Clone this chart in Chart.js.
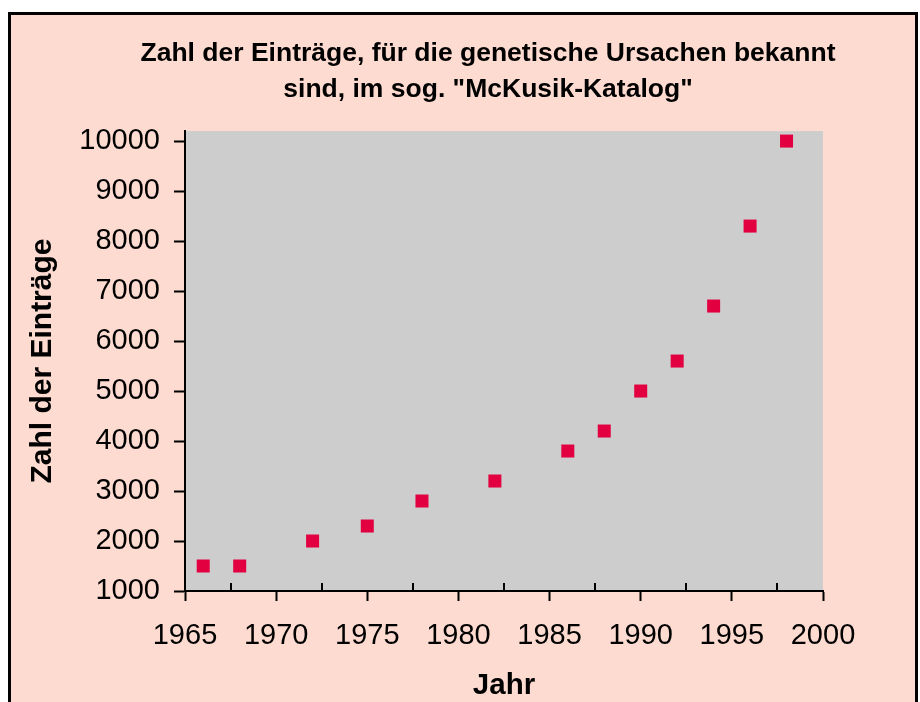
<!DOCTYPE html>
<html>
<head>
<meta charset="utf-8">
<script src="https://cdn.jsdelivr.net/npm/chart.js@4/dist/chart.umd.min.js"></script>
<style>
  html, body { margin: 0; padding: 0; background: #fff; }
  #wrap { width: 920px; height: 702px; }
</style>
</head>
<body>
<div id="wrap"><canvas id="myChart" width="920" height="702"></canvas></div>
<script>
// Jahr / Zahl der Einträge im McKusik-Katalog
const years = [1966, 1968, 1972, 1975, 1978, 1982, 1986, 1988, 1990, 1992, 1994, 1996, 1998];
const entries = [1500, 1500, 2000, 2300, 2800, 3200, 3800, 4200, 5000, 5600, 6700, 8300, 10000];
const yTicks = [1000, 2000, 3000, 4000, 5000, 6000, 7000, 8000, 9000, 10000];
const xMinorTicks = [1967.5, 1972.5, 1977.5, 1982.5, 1987.5, 1992.5, 1997.5];

const FONT = 'Arial, "Liberation Sans", sans-serif';

// pink frame + grey plot area
const background = {
  id: 'background',
  afterLayout(chart) {
    // title sits a bit right of the canvas centre
    chart.titleBlock.left = 136;
    chart.titleBlock.right = 840;
  },
  beforeDraw(chart) {
    const ctx = chart.ctx;
    const a = chart.chartArea;
    ctx.save();
    ctx.fillStyle = '#ffffff';
    ctx.fillRect(0, 0, chart.width, chart.height);
    ctx.fillStyle = 'rgb(253,219,208)';
    ctx.fillRect(9, 14, 907, chart.height - 14);
    ctx.strokeStyle = '#000';
    ctx.lineWidth = 3;
    ctx.beginPath();
    ctx.moveTo(9.5, chart.height + 2);
    ctx.lineTo(9.5, 13.5);
    ctx.lineTo(916.5, 13.5);
    ctx.lineTo(916.5, chart.height + 2);
    ctx.stroke();
    ctx.fillStyle = 'rgb(205,205,205)';
    ctx.fillRect(a.left, a.top, a.right - a.left, a.bottom - a.top);
    ctx.restore();
  }
};

// small inward ticks between the year labels
const minorTicks = {
  id: 'minorTicks',
  afterDatasetsDraw(chart) {
    const ctx = chart.ctx;
    const x = chart.scales.x;
    const bottom = chart.chartArea.bottom;
    ctx.save();
    ctx.strokeStyle = '#000';
    ctx.lineWidth = 2;
    xMinorTicks.forEach(v => {
      const px = Math.round(x.getPixelForValue(v));
      ctx.beginPath();
      ctx.moveTo(px, bottom);
      ctx.lineTo(px, bottom - 8);
      ctx.stroke();
    });
    ctx.restore();
  }
};

const canvas = document.getElementById('myChart');

var myChart = new Chart(canvas, {
  type: 'scatter',
  data: {
    datasets: [{
      label: 'Einträge',
      data: years.map((y, i) => ({ x: y, y: entries[i] })),
      backgroundColor: 'rgb(226,0,64)',
      borderWidth: 0,
      pointStyle: 'rect',
      pointRadius: 9.2,
      pointHoverRadius: 9.2
    }]
  },
  options: {
    responsive: false,
    animation: false,
    layout: { padding: { left: 0, right: 97, top: 0, bottom: 0 } },
    plugins: {
      legend: { display: false },
      tooltip: { enabled: false },
      title: {
        display: true,
        text: ['Zahl der Einträge, für die genetische Ursachen bekannt', 'sind, im sog. "McKusik-Katalog"'],
        color: '#000',
        font: { family: FONT, size: 26.5, weight: 'bold', lineHeight: 1.36 },
        padding: { top: 36, bottom: 23 }
      }
    },
    scales: {
      x: {
        type: 'linear',
        min: 1965,
        max: 2000,
        ticks: {
          stepSize: 5,
          color: '#000',
          padding: 18,
          maxRotation: 0,
          font: { family: FONT, size: 29 },
          callback: v => String(v)
        },
        grid: {
          drawOnChartArea: false,
          drawTicks: true,
          tickLength: 10,
          tickWidth: 2,
          tickColor: '#000'
        },
        border: { color: '#000', width: 2 },
        title: {
          display: true,
          text: 'Jahr',
          color: '#000',
          font: { family: FONT, size: 29.5, weight: 'bold' },
          padding: { top: 0, bottom: -2 }
        },
        afterFit: s => { s.height = 111; }
      },
      y: {
        type: 'linear',
        min: 1000,
        max: 10200,
        afterBuildTicks: s => { s.ticks = yTicks.map(v => ({ value: v })); },
        ticks: {
          color: '#000',
          padding: 14,
          font: { family: FONT, size: 29 },
          callback: v => String(v)
        },
        grid: {
          drawOnChartArea: false,
          drawTicks: true,
          tickLength: 11,
          tickWidth: 2,
          tickColor: '#000'
        },
        border: { color: '#000', width: 2 },
        title: {
          display: true,
          text: 'Zahl der Einträge',
          color: '#000',
          font: { family: FONT, size: 30, weight: 'bold' },
          padding: { top: 25, bottom: 0 }
        },
        afterFit: s => { s.width = 185; }
      }
    }
  },
  plugins: [background, minorTicks]
});
</script>
</body>
</html>
